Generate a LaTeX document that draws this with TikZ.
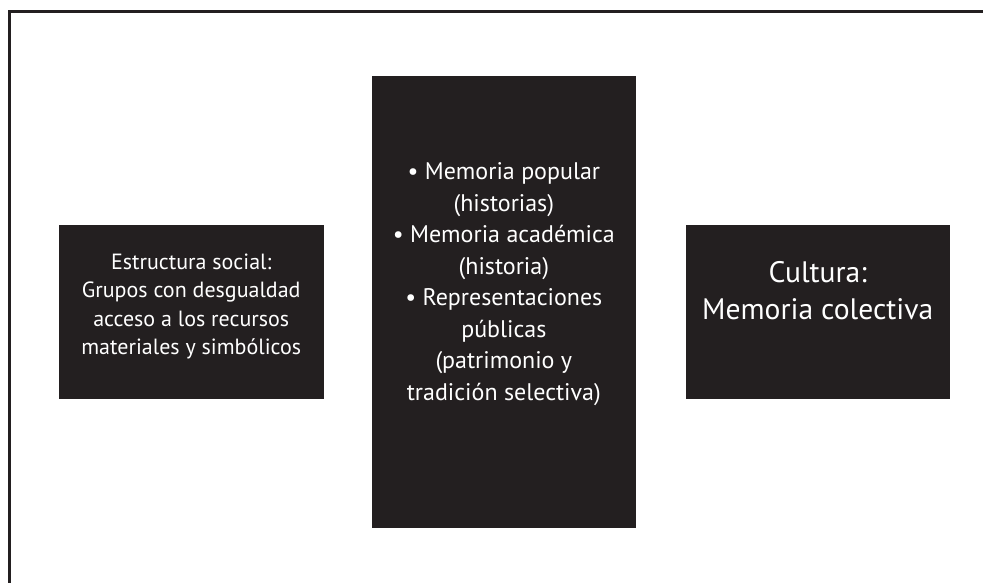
\documentclass[tikz,border=0pt]{standalone}
\usepackage{fontspec}
\newfontfamily\blockfont{PT Sans}
\usetikzlibrary{positioning}
\definecolor{blockblack}{HTML}{231F20}

\tikzset{
  block/.style={fill=blockblack, minimum width=264.5pt, inner sep=0pt},
  blocktext/.style={text=white, align=center, inner sep=0pt},
}

\begin{document}
\begin{tikzpicture}
  \useasboundingbox (0,0) rectangle (983pt,-583pt);
  \draw[blockblack, line width=2.7pt] (9.3pt,-583pt) |- (983pt,-11.3pt);

  \node[block, minimum height=451.5pt] (mem) at (503.85pt,-301.75pt) {};
  \node[block, minimum height=174pt] (soc) [left=47.7pt of mem, yshift=-10.25pt] {};
  \node[block, minimum height=174pt] (cult) [right=49pt of mem, yshift=-10.25pt] {};

  \node[blocktext, font=\blockfont\fontsize{22}{28.3}\selectfont] (soctext)
    at ([yshift=5.5pt]soc.center)
    {Estructura social:\\Grupos con desgualdad\\acceso a los recursos\\materiales y simbólicos};
  \node[blocktext, font=\blockfont\fontsize{24}{31.5}\selectfont] (memtext)
    at ([yshift=17.7pt]mem.center)
    {• Memoria popular\\(historias)\\• Memoria académica\\(historia)\\• Representaciones\\públicas\\(patrimonio y\\tradición selectiva)};
  \node[blocktext, font=\blockfont\fontsize{29.6}{37.7}\selectfont] (culttext)
    at ([yshift=21.5pt]cult.center)
    {Cultura:\\Memoria colectiva};
\end{tikzpicture}
\end{document}
